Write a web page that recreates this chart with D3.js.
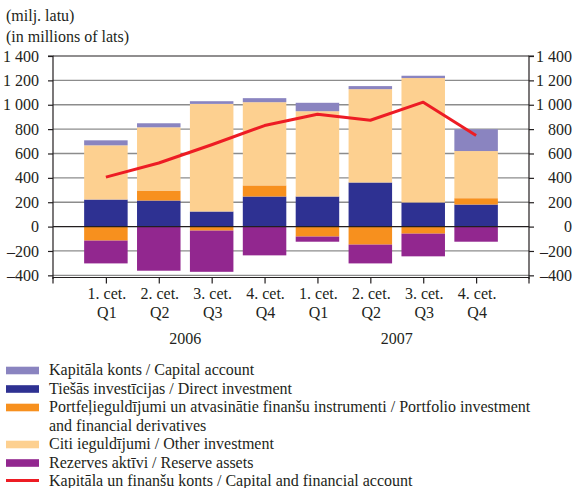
<!DOCTYPE html>
<html>
<head>
<meta charset="utf-8">
<script src="https://cdn.jsdelivr.net/npm/d3@7/dist/d3.min.js"></script>
<style>
  html, body { margin: 0; padding: 0; background: #fff; }
  svg { display: block; font-family: "Liberation Serif", "Times New Roman", serif; }
</style>
</head>
<body>
<svg id="chart" width="575" height="488"></svg>
<script>
// ---- data ----
const quarterLv = ["1. cet.", "2. cet.", "3. cet.", "4. cet.", "1. cet.", "2. cet.", "3. cet.", "4. cet."];
const quarterEn = ["Q1", "Q2", "Q3", "Q4", "Q1", "Q2", "Q3", "Q4"];
const years = ["2006", "2007"];
const capitalAccount   = [41, 33, 22, 33, 69, 25, 19, 179];
const directInvestment = [222, 214, 124, 247, 247, 362, 198, 181];
const portfolioInv     = [-115, 82, -33, 91, -82, -148, -58, 52];
const otherInvestment  = [445, 519, 883, 683, 700, 766, 1021, 387];
const reserveAssets    = [-187, -362, -338, -236, -42, -154, -186, -124];
const capFinAccount    = [406, 522, 672, 829, 922, 873, 1021, 747];
const yTicks = [-400, -200, 0, 200, 400, 600, 800, 1000, 1200, 1400];

const seriesKeys = ["direct", "portfolio", "other", "capital", "reserve"];
const colors = {
  capital: "#8a84c0",
  direct: "#2e3192",
  portfolio: "#f7901e",
  other: "#fdd090",
  reserve: "#92278f",
  line: "#ed1c24"
};
const legendItems = [
  { key: "capital", lines: ["Kapitāla konts / Capital account"] },
  { key: "direct", lines: ["Tiešās investīcijas / Direct investment"] },
  { key: "portfolio", lines: ["Portfeļieguldījumi un atvasinātie finanšu instrumenti / Portfolio investment", "and financial derivatives"] },
  { key: "other", lines: ["Citi ieguldījumi / Other investment"] },
  { key: "reserve", lines: ["Rezerves aktīvi / Reserve assets"] },
  { key: "line", lines: ["Kapitāla un finanšu konts / Capital and financial account"] }
];

const rows = quarterLv.map((q, i) => ({
  i,
  capital: capitalAccount[i],
  direct: directInvestment[i],
  portfolio: portfolioInv[i],
  other: otherInvestment[i],
  reserve: reserveAssets[i]
}));

// ---- layout ----
const L = 53, R = 529, T = 56, B = 279;
const svg = d3.select("#chart");

const x = d3.scalePoint().domain(rows.map(d => d.i)).range([L, R]).padding(1);
const y = d3.scaleLinear().domain([-430, 1400]).range([B, T]);
const barW = 43.5;

// header text
svg.append("text").attr("x", 6).attr("y", 21).attr("font-size", 16).attr("fill", "#231f20").text("(milj. latu)");
svg.append("text").attr("x", 6).attr("y", 42).attr("font-size", 16).attr("fill", "#231f20").text("(in millions of lats)");

// gridlines
svg.append("g").selectAll("line").data(yTicks.filter(t => t !== 0 && t !== 1400)).join("line")
  .attr("x1", L).attr("x2", R).attr("y1", d => y(d)).attr("y2", d => y(d))
  .attr("stroke", "#8c8c8c").attr("stroke-width", 1.3);

// stacked bars
const stack = d3.stack().keys(seriesKeys).offset(d3.stackOffsetDiverging);
const stacked = stack(rows);
svg.append("g").selectAll("g").data(stacked).join("g")
  .attr("fill", s => colors[s.key])
  .selectAll("rect").data(s => s).join("rect")
  .attr("x", d => x(d.data.i) - barW / 2)
  .attr("width", barW)
  .attr("y", d => y(Math.max(d[0], d[1])))
  .attr("height", d => Math.abs(y(d[0]) - y(d[1])));

// zero line & top line
svg.append("line").attr("x1", L).attr("x2", R).attr("y1", y(0)).attr("y2", y(0)).attr("stroke", "#231f20").attr("stroke-width", 1.2);
svg.append("line").attr("x1", L).attr("x2", R).attr("y1", y(1400)).attr("y2", y(1400)).attr("stroke", "#231f20").attr("stroke-width", 1.2);

// line series
const line = d3.line().x((d, i) => x(i)).y(d => y(d));
svg.append("path").datum(capFinAccount).attr("d", line)
  .attr("fill", "none").attr("stroke", colors.line).attr("stroke-width", 3).attr("stroke-linejoin", "round");

// axes
const fmt = d => (d < 0 ? "\u2013" : "") + d3.format(",")(Math.abs(d)).replace(/,/g, " ");
const leftAxis = d3.axisLeft(y).tickValues(yTicks).tickFormat(fmt).tickSize(5).tickPadding(9);
const rightAxis = d3.axisRight(y).tickValues(yTicks).tickFormat(fmt).tickSize(5).tickPadding(7);
const bottomAxis = d3.axisBottom(x).tickFormat(() => "").tickSize(6).tickSizeOuter(6);

function styleAxis(g) {
  g.selectAll("path, line").attr("stroke", "#231f20").attr("stroke-width", 1.2);
  g.selectAll("text").attr("font-size", 16).attr("fill", "#231f20").attr("font-family", "Liberation Serif, serif");
}
svg.append("g").attr("transform", `translate(${L},0)`).call(leftAxis).call(g => g.select(".domain").attr("d", `M-5,${T}H0V${B}`)).call(styleAxis);
const ra = svg.append("g").attr("transform", `translate(${R},0)`).call(rightAxis).call(g => g.select(".domain").attr("d", `M5,${T}H0V${B}`)).call(styleAxis);
ra.selectAll("text").attr("text-anchor", "end").attr("x", 43);
svg.append("g").attr("transform", `translate(0,${B - 1.5})`).call(bottomAxis).call(g => g.select(".domain").attr("d", `M${L},6V0H${R}V6`)).call(styleAxis);

// x labels
const xl = svg.append("g").attr("font-size", 16).attr("fill", "#231f20").attr("text-anchor", "middle");
xl.selectAll("text.lv").data(quarterLv).join("text").attr("class", "lv")
  .attr("x", (d, i) => x(i) + 1).attr("y", 299).text(d => d);
xl.selectAll("text.en").data(quarterEn).join("text").attr("class", "en")
  .attr("x", (d, i) => x(i) + 1).attr("y", 318).text(d => d);
xl.selectAll("text.yr").data(years).join("text").attr("class", "yr")
  .attr("x", (d, j) => (x(j * 4 + 1) + x(j * 4 + 2)) / 2).attr("y", 344).text(d => d);

// legend
const lg = svg.append("g").attr("font-size", 16).attr("fill", "#231f20");
let base = 375;
legendItems.forEach(item => {
  if (item.key === "line") {
    lg.append("rect").attr("x", 6).attr("y", base - 7).attr("width", 33).attr("height", 3).attr("fill", colors.line);
  } else {
    lg.append("rect").attr("x", 6).attr("y", base - 8.3).attr("width", 33).attr("height", 7.6).attr("fill", colors[item.key]);
  }
  item.lines.forEach((t, k) => {
    lg.append("text").attr("x", 49).attr("y", base + k * 18.5).text(t);
  });
  base += 18.5 * item.lines.length;
});
</script>
</body>
</html>
